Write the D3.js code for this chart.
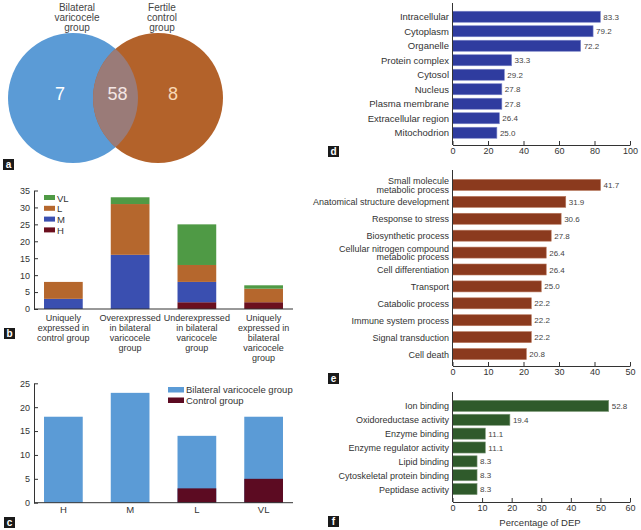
<!DOCTYPE html>
<html>
<head>
<meta charset="utf-8">
<script src="https://cdn.jsdelivr.net/npm/d3@7"></script>
<style>
  body { margin: 0; background: #fff; }
  svg { font-family: "Liberation Sans", Arial, sans-serif; }
  .tick text { fill: #333; }
  .domain, .tick line { stroke: #333; }
</style>
</head>
<body>
<div id="chart"></div>
<script>
// panel a - venn counts
var vennGroups = [["Bilateral", "varicocele", "group"], ["Fertile", "control", "group"]];
var vennCounts = [7, 58, 8];

// panel b - stacked by abundance level
var bCategories = [
  ["Uniquely", "expressed in", "control group"],
  ["Overexpressed", "in bilateral", "varicocele", "group"],
  ["Underexpressed", "in bilateral", "varicocele", "group"],
  ["Uniquely", "expressed in", "bilateral", "varicocele", "group"]
];
var bLevels = ["H", "M", "L", "VL"];
var bH = [0, 0, 2, 2];
var bM = [3, 16, 6, 0];
var bL = [5, 15, 5, 4];
var bVL = [0, 2, 12, 1];
var bTicks = [0, 5, 10, 15, 20, 25, 30, 35];

// panel c
var cCategories = ["H", "M", "L", "VL"];
var cBilateral = [18, 23, 14, 18];
var cControl = [0, 0, 3, 5];
var cTicks = [0, 5, 10, 15, 20, 25];

// panel d - cellular component
var dTerms = ["Intracellular", "Cytoplasm", "Organelle", "Protein complex", "Cytosol", "Nucleus",
              "Plasma membrane", "Extracellular region", "Mitochodrion"];
var dValues = [83.3, 79.2, 72.2, 33.3, 29.2, 27.8, 27.8, 26.4, 25.0];
var dTicks = [0, 20, 40, 60, 80, 100];

// panel e - biological process
var eTerms = ["Small molecule\nmetabolic process", "Anatomical structure development", "Response to stress",
              "Biosynthetic process", "Cellular nitrogen compound\nmetabolic process", "Cell differentiation",
              "Transport", "Catabolic process", "Immune system process", "Signal transduction", "Cell death"];
var eValues = [41.7, 31.9, 30.6, 27.8, 26.4, 26.4, 25.0, 22.2, 22.2, 22.2, 20.8];
var eTicks = [0, 10, 20, 30, 40, 50];

// panel f - molecular function
var fTerms = ["Ion binding", "Oxidoreductase activity", "Enzyme binding", "Enzyme regulator activity",
              "Lipid binding", "Cytoskeletal protein binding", "Peptidase activity"];
var fValues = [52.8, 19.4, 11.1, 11.1, 8.3, 8.3, 8.3];
var fTicks = [0, 10, 20, 30, 40, 50, 60];

var svg = d3.select("#chart").append("svg")
  .attr("width", 641)
  .attr("height", 530);

// little black letter boxes
var panelTag = function(letter, x, y) {
  svg.append("rect").attr("x", x).attr("y", y).attr("width", 11).attr("height", 11).attr("fill", "#1a1a1a");
  svg.append("text").attr("x", x + 5.5).attr("y", y + 9)
    .attr("text-anchor", "middle").attr("fill", "#fff")
    .style("font-size", "10px").style("font-weight", "bold")
    .text(letter);
};

// ---------- a: venn ----------
var r = 65, cy = 98;
var cx = d3.scaleLinear().domain([0, 1]).range([73, 158]);

svg.append("clipPath").attr("id", "leftClip")
  .append("circle").attr("cx", cx(0)).attr("cy", cy).attr("r", r);

svg.append("circle").attr("cx", cx(0)).attr("cy", cy).attr("r", r).attr("fill", "#5b9bd6");
svg.append("circle").attr("cx", cx(1)).attr("cy", cy).attr("r", r).attr("fill", "#b3622a");
svg.append("circle").attr("cx", cx(1)).attr("cy", cy).attr("r", r)
  .attr("clip-path", "url(#leftClip)").attr("fill", "#9a7b78");

vennGroups.forEach(function(lines, i) {
  lines.forEach(function(t, j) {
    svg.append("text")
      .attr("x", cx(i) + 4)
      .attr("y", 11 + j * 10)
      .attr("text-anchor", "middle")
      .attr("fill", "#444")
      .style("font-size", "10px")
      .text(t);
  });
});

var countX = [cx(0) - 13, (cx(0) + cx(1)) / 2 + 2, cx(1) + 15];
var countColor = ["#ffffff", "#f4e6e4", "#f8d9b5"];
vennCounts.forEach(function(v, i) {
  svg.append("text")
    .attr("x", countX[i]).attr("y", 100)
    .attr("text-anchor", "middle")
    .attr("fill", countColor[i])
    .style("font-size", "18px")
    .text(v);
});
panelTag("a", 3, 159);

// ---------- b: stacked bars ----------
var bData = bCategories.map(function(c, i) {
  return { H: bH[i], M: bM[i], L: bL[i], VL: bVL[i], idx: i };
});
var bColors = { H: "#6b0f1e", M: "#3a4fb0", L: "#b5672d", VL: "#4f9a45" };

var bx = d3.scaleBand().domain(d3.range(bCategories.length))
  .range([30, 297]).paddingInner(0.42).paddingOuter(0.21);
var by = d3.scaleLinear().domain([0, 35]).range([309, 190.5]);

var bStack = d3.stack().keys(bLevels)(bData);

svg.append("g").selectAll("g")
  .data(bStack)
  .enter().append("g")
  .attr("fill", function(d) { return bColors[d.key]; })
  .selectAll("rect")
  .data(function(d) { return d; })
  .enter().append("rect")
  .attr("x", function(d) { return bx(d.data.idx); })
  .attr("y", function(d) { return by(d[1]); })
  .attr("width", bx.bandwidth())
  .attr("height", function(d) { return by(d[0]) - by(d[1]); });

svg.append("g")
  .attr("transform", "translate(34,0)")
  .call(d3.axisLeft(by).tickValues(bTicks).tickSizeInner(-4).tickSizeOuter(0).tickPadding(4))
  .style("font-size", "9px");

svg.append("line").attr("x1", 34).attr("x2", 293).attr("y1", by(0)).attr("y2", by(0))
  .attr("stroke", "#333");

bCategories.forEach(function(lines, i) {
  lines.forEach(function(t, j) {
    svg.append("text")
      .attr("x", bx(i) + bx.bandwidth() / 2)
      .attr("y", 320.5 + j * 10)
      .attr("text-anchor", "middle")
      .attr("fill", "#333")
      .style("font-size", "9px")
      .text(t);
  });
});

// legend, top item is VL
bLevels.slice().reverse().forEach(function(k, i) {
  svg.append("rect").attr("x", 44).attr("y", 195 + i * 10.8).attr("width", 11).attr("height", 5)
    .attr("fill", bColors[k]);
  svg.append("text").attr("x", 57).attr("y", 201.5 + i * 10.8)
    .attr("fill", "#333").style("font-size", "9.5px").text(k);
});
panelTag("b", 4, 328);

// ---------- c: abundance ----------
var cxs = d3.scaleBand().domain(cCategories)
  .range([30, 297]).paddingInner(0.42).paddingOuter(0.21);
var cy2 = d3.scaleLinear().domain([0, 25]).range([502.7, 383.3]);

svg.append("g").selectAll("rect")
  .data(cBilateral)
  .enter().append("rect")
  .attr("x", function(d, i) { return cxs(cCategories[i]); })
  .attr("y", function(d) { return cy2(d); })
  .attr("width", cxs.bandwidth())
  .attr("height", function(d) { return cy2(0) - cy2(d); })
  .attr("fill", "#5b9bd6");

svg.append("g").selectAll("rect")
  .data(cControl)
  .enter().append("rect")
  .attr("x", function(d, i) { return cxs(cCategories[i]); })
  .attr("y", function(d) { return cy2(d); })
  .attr("width", cxs.bandwidth())
  .attr("height", function(d) { return cy2(0) - cy2(d); })
  .attr("fill", "#5c0b22");

svg.append("g")
  .attr("transform", "translate(34,0)")
  .call(d3.axisLeft(cy2).tickValues(cTicks).tickSizeInner(-4).tickSizeOuter(0).tickPadding(4))
  .style("font-size", "9px");

svg.append("g")
  .attr("transform", "translate(0," + cy2(0) + ")")
  .call(d3.axisBottom(cxs).tickSize(0).tickPadding(4))
  .call(function(g) { g.select(".domain").attr("d", "M34,0H293"); })
  .style("font-size", "9.5px");

var cLegend = ["Bilateral varicocele group", "Control group"];
var cLegendColor = ["#5b9bd6", "#5c0b22"];
cLegend.forEach(function(t, i) {
  svg.append("rect").attr("x", 168).attr("y", 387 + i * 10.5).attr("width", 16).attr("height", 5.5)
    .attr("fill", cLegendColor[i]);
  svg.append("text").attr("x", 186).attr("y", 393 + i * 10.5)
    .attr("fill", "#333").style("font-size", "9.5px").text(t);
});
panelTag("c", 4, 517);

// ---------- d, e, f: horizontal bars ----------
var hbar = function(opt) {
  var x = d3.scaleLinear().domain([0, opt.max]).range([452.5, 630]);
  var y = d3.scaleBand().domain(d3.range(opt.terms.length))
    .range(opt.range).paddingInner(opt.pad).paddingOuter(opt.pad / 2);

  var g = svg.append("g");

  g.selectAll("rect")
    .data(opt.values)
    .enter().append("rect")
    .attr("x", x(0))
    .attr("y", function(d, i) { return y(i); })
    .attr("width", function(d) { return x(d) - x(0); })
    .attr("height", y.bandwidth())
    .attr("fill", opt.color)
    .attr("stroke", opt.edge)
    .attr("stroke-width", 0.6);

  g.selectAll(".val")
    .data(opt.values)
    .enter().append("text")
    .attr("class", "val")
    .attr("x", function(d) { return x(d) + 3; })
    .attr("y", function(d, i) { return y(i) + y.bandwidth() / 2 + 3; })
    .attr("fill", "#444")
    .style("font-size", "8px")
    .text(function(d) { return d.toFixed(1); });

  opt.terms.forEach(function(t, i) {
    var lines = t.split("\n");
    lines.forEach(function(s, j) {
      g.append("text")
        .attr("x", 449)
        .attr("y", y(i) + y.bandwidth() / 2 + 3.5 + (j - (lines.length - 1) / 2) * 8.5)
        .attr("text-anchor", "end")
        .attr("fill", "#333")
        .style("font-size", opt.font)
        .text(s);
    });
  });

  g.append("line").attr("x1", x(0)).attr("x2", x(0))
    .attr("y1", opt.top).attr("y2", opt.base).attr("stroke", "#333");

  g.append("g")
    .attr("transform", "translate(0," + opt.base + ")")
    .call(d3.axisBottom(x).tickValues(opt.ticks).tickSizeInner(-4).tickSizeOuter(0).tickPadding(3))
    .style("font-size", "9px");
};

hbar({ terms: dTerms, values: dValues, ticks: dTicks, max: 100, range: [9.5, 140],
       pad: 0.24, top: 3, base: 145, color: "#2f3c9f", edge: "#7c86c8", font: "9.5px" });
panelTag("d", 328, 146);

hbar({ terms: eTerms, values: eValues, ticks: eTicks, max: 50, range: [176.5, 362.5],
       pad: 0.35, top: 170, base: 366, color: "#8b3a1e", edge: "#b8785e", font: "9px" });
panelTag("e", 328, 373);

hbar({ terms: fTerms, values: fValues, ticks: fTicks, max: 60, range: [399, 496],
       pad: 0.2, top: 392, base: 502, color: "#2f5a2b", edge: "#7f9a7a", font: "9px" });
panelTag("f", 328, 516);

// x axis label
svg.append("text")
  .style("text-anchor", "middle")
  .attr("x", 540)
  .attr("y", 526)
  .attr("fill", "#333")
  .style("font-size", "9.5px")
  .text("Percentage of DEP");
</script>
</body>
</html>
